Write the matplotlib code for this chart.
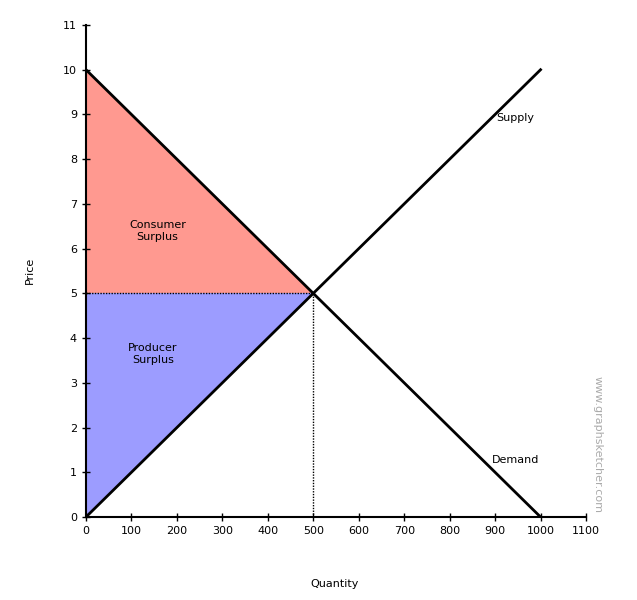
import matplotlib
matplotlib.use("Agg")
import matplotlib.pyplot as plt
import numpy as np

supply_q = [0, 1000]
supply_p = [0, 10]
demand_q = [0, 1000]
demand_p = [10, 0]
eq_q, eq_p = 500, 5
xticks = list(range(0, 1101, 100))
yticks = list(range(0, 12))

fig = plt.figure(figsize=(6.37, 6.0), dpi=100)
ax = fig.add_axes([86/637, 1-517/600, 500/637, 492/600])
ax.set_xlim(0, 1100)
ax.set_ylim(0, 11)
for s in ["top", "right"]:
    ax.spines[s].set_visible(False)
ax.spines["left"].set_linewidth(1.5)
ax.spines["bottom"].set_linewidth(1.5)
ax.set_xticks(xticks)
ax.set_yticks(yticks)
ax.tick_params(direction="inout", length=6, width=1, labelsize=8)

ax.fill([0, 0, eq_q], [demand_p[0], eq_p, eq_p], color="#ff9990", lw=0)
ax.fill([0, 0, eq_q], [supply_p[0], eq_p, eq_p], color="#9c9cff", lw=0)
ax.plot(supply_q, supply_p, color="black", lw=2)
ax.plot(demand_q, demand_p, color="black", lw=2)
ax.plot([0, eq_q], [eq_p, eq_p], color="black", lw=1, ls=(0, (1, 1)))
ax.plot([eq_q, eq_q], [0, eq_p], color="black", lw=1, ls=(0, (1, 1)))

ax.text(945, 8.85, "Supply", fontsize=8, ha="center")
ax.text(945, 1.2, "Demand", fontsize=8, ha="center")
ax.text(157, 6.4, "Consumer\nSurplus", fontsize=8, ha="center", va="center")
ax.text(147, 3.65, "Producer\nSurplus", fontsize=8, ha="center", va="center")
fig.text(335/637, 1-584/600, "Quantity", fontsize=8, ha="center", va="center")
fig.text(30/637, 1-270/600, "Price", fontsize=8, ha="center", va="center", rotation=90)
fig.text(598/637, 1-445/600, "www.graphsketcher.com", fontsize=8, color="#aaaaaa",
         ha="center", va="center", rotation=-90)
fig.savefig("out.png", dpi=100)
